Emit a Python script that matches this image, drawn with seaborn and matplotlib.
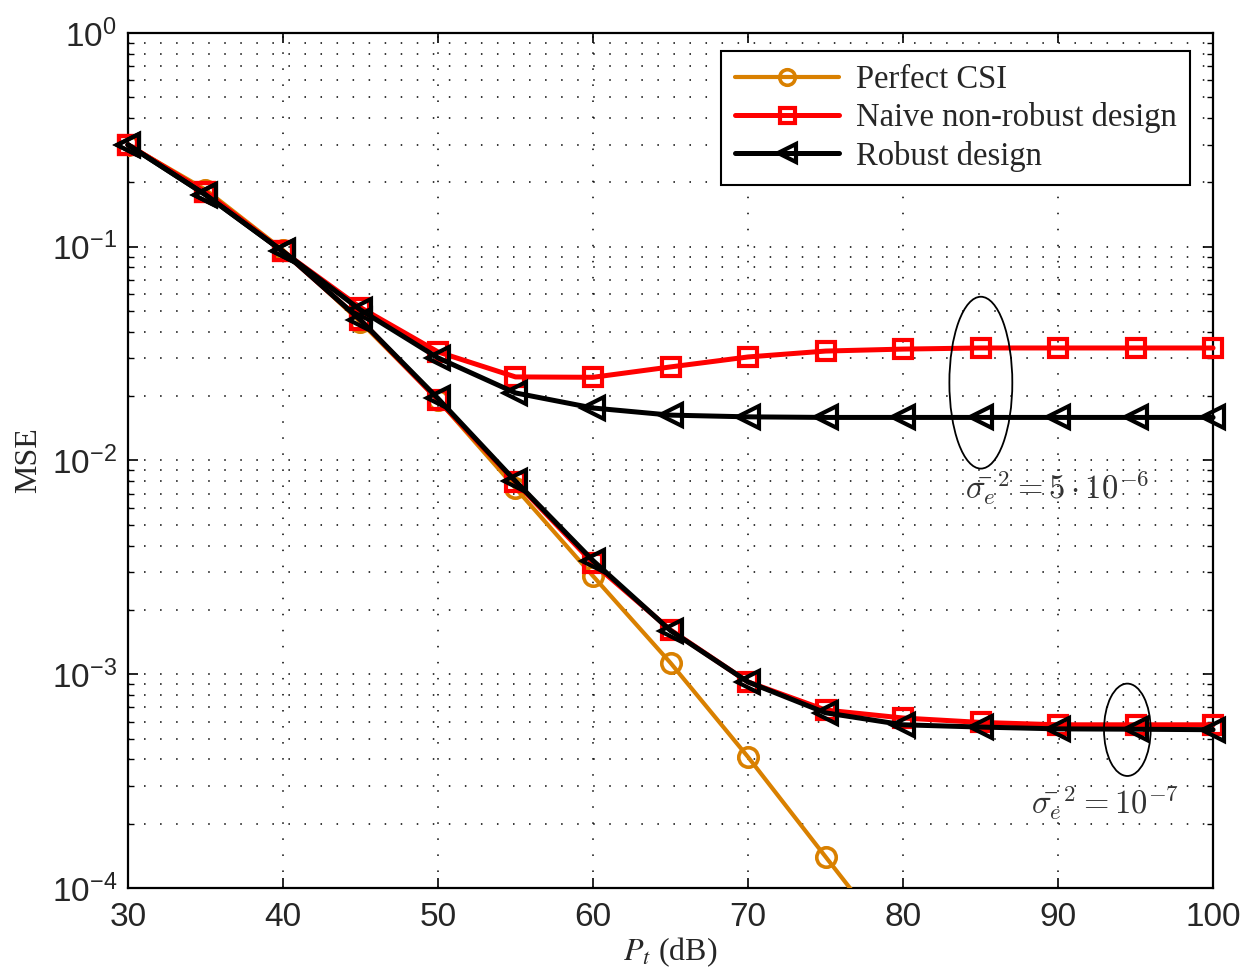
import numpy as np
import pandas as pd
import matplotlib
matplotlib.use("Agg")
import matplotlib.pyplot as plt
import seaborn as sns
from matplotlib.patches import Ellipse
from matplotlib.ticker import LogLocator, FixedLocator, NullFormatter

# ---------------- data ----------------
pt_db = [30, 35, 40, 45, 50, 55, 60, 65, 70, 75, 80, 85, 90, 95, 100]

perfect_csi = [0.30, 0.185, 0.0966, 0.0444, 0.0192, 0.00743, 0.00288, 0.00113,
               0.00041, 0.00014, 4.8e-5, 1.6e-5, 5.2e-6, 1.7e-6, 5.5e-7]

naive_hi = [0.30, 0.18, 0.095, 0.0519, 0.0322, 0.0246, 0.0245, 0.0274,
            0.0305, 0.0325, 0.0332, 0.0336, 0.0336, 0.0336, 0.0336]
robust_hi = [0.30, 0.175, 0.095, 0.0506, 0.0302, 0.0207, 0.0176, 0.0163,
             0.0160, 0.0159, 0.0159, 0.0159, 0.0159, 0.0159, 0.0159]

naive_lo = [0.30, 0.18, 0.095, 0.0454, 0.0192, 0.00794, 0.00331, 0.00161,
            0.00092, 0.00068, 0.000624, 0.000595, 0.00058, 0.00058, 0.00058]
robust_lo = [0.30, 0.175, 0.095, 0.0454, 0.0195, 0.0080, 0.0034, 0.00160,
             0.00092, 0.00066, 0.00058, 0.000566, 0.000555, 0.000553, 0.00055]

labels = ["Perfect CSI", "Naive non-robust design", "Robust design"]
x_ticks = [30, 40, 50, 60, 70, 80, 90, 100]
annot_hi = r"$\bar{\sigma_e}^2 = 5 \cdot 10^{-6}$"
annot_lo = r"$\bar{\sigma_e}^2 = 10^{-7}$"

# ---------------- style ----------------
sns.set_theme(style="white")
plt.rcParams["font.family"] = ["Liberation Sans", "DejaVu Sans"]
plt.rcParams["mathtext.fontset"] = "stix"
plt.rcParams["axes.unicode_minus"] = True

ORANGE = "#D98000"
RED = "#FF0000"
BLACK = "#000000"

fig = plt.figure(figsize=(12.52, 9.76), dpi=100)
ax = fig.add_axes([0.1022, 0.0902, 0.8667, 0.8760])
ax.set_yscale("log")

common = dict(ax=ax, errorbar=None, legend=False)

sns.lineplot(x=pt_db, y=perfect_csi, color=ORANGE, lw=3.0, marker="o",
             markersize=14, markerfacecolor="none", markeredgecolor=ORANGE,
             markeredgewidth=2.6, label=labels[0], zorder=3, **common)

for i, ys in enumerate([naive_hi, naive_lo]):
    sns.lineplot(x=pt_db, y=ys, color=RED, lw=3.6, marker="s",
                 markersize=13.5, markerfacecolor="none", markeredgecolor=RED,
                 markeredgewidth=3.0, label=labels[1] if i == 0 else "_nolegend_",
                 zorder=4, clip_on=False, **common)

for i, ys in enumerate([robust_hi, robust_lo]):
    sns.lineplot(x=pt_db, y=ys, color=BLACK, lw=3.6, marker="<",
                 markersize=16, markerfacecolor="none", markeredgecolor=BLACK,
                 markeredgewidth=3.0, label=labels[2] if i == 0 else "_nolegend_",
                 zorder=5, clip_on=False, **common)

ax.set_xlim(30, 100)
ax.set_ylim(1e-4, 1)
ax.xaxis.set_major_locator(FixedLocator(x_ticks))
ax.yaxis.set_major_locator(LogLocator(base=10, numticks=10))
ax.yaxis.set_minor_locator(LogLocator(base=10, subs=np.arange(2, 10), numticks=20))
ax.yaxis.set_minor_formatter(NullFormatter())

# grid: dotted
dot = (0, (1.0, 9.5))
ax.grid(True, which="major", axis="both", color="black", linestyle=dot, linewidth=1.1)
ax.grid(True, which="minor", axis="y", color="black", linestyle=dot, linewidth=1.1)
ax.set_axisbelow(True)

for s in ax.spines.values():
    s.set_visible(True)
    s.set_color("black")
    s.set_linewidth(1.6)

ax.tick_params(which="both", direction="in", top=True, right=True, bottom=True, left=True,
               color="black")
ax.tick_params(which="major", length=7, width=1.2, labelsize=24, pad=10)
ax.tick_params(which="minor", length=4, width=1.0)
ax.tick_params(axis="y", which="major", pad=8)

serif = ["Liberation Serif", "DejaVu Serif"]
ax.set_xlabel(r"$P_t$ (dB)", fontsize=23, family=serif, labelpad=2)
ax.set_ylabel("MSE", fontsize=23, family=serif, labelpad=6)

# legend
handles = [l for l in ax.lines if not l.get_label().startswith("_")]
leg = ax.legend(handles=handles, labels=labels, loc="upper right",
                bbox_to_anchor=(0.979, 0.979), borderaxespad=0,
                prop={"family": serif, "size": 23.5}, handlelength=3.2,
                handletextpad=0.5, labelspacing=0.22, borderpad=0.42,
                fancybox=False, framealpha=1, edgecolor="black", markerscale=0.8)
leg.get_frame().set_linewidth(1.5)

# ellipses + annotations (axes fraction coordinates)
ax.add_patch(Ellipse((0.786, 0.591), 0.058, 0.201, transform=ax.transAxes,
                     fill=False, edgecolor="black", lw=1.3, zorder=6))
ax.add_patch(Ellipse((0.921, 0.185), 0.043, 0.108, transform=ax.transAxes,
                     fill=False, edgecolor="black", lw=1.3, zorder=6))
ax.text(0.771, 0.468, annot_hi, transform=ax.transAxes, fontsize=23.5,
        math_fontfamily="cm", ha="left", va="center", color="#333333", zorder=6)
ax.text(0.832, 0.100, annot_lo, transform=ax.transAxes, fontsize=23.5,
        math_fontfamily="cm", ha="left", va="center", color="#333333", zorder=6)

fig.savefig("out.png", dpi=100, facecolor="white")
